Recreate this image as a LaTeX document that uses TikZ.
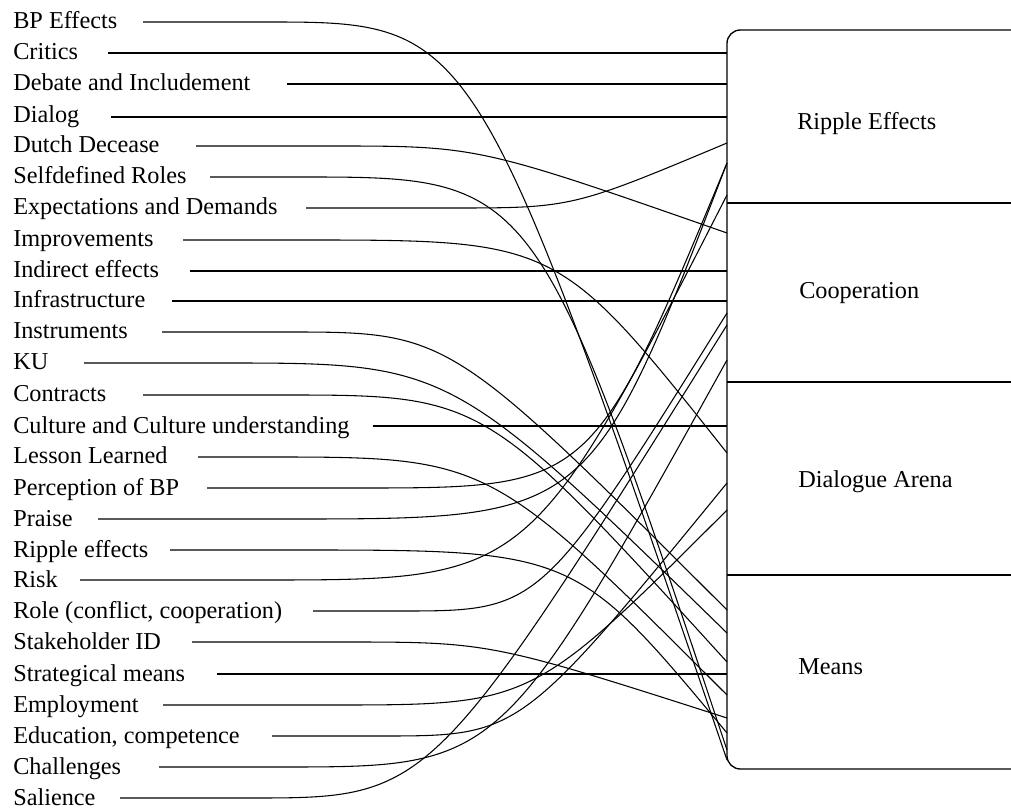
\documentclass[tikz,border=0pt]{standalone}
\usepackage{fontspec}
\setmainfont{Liberation Serif}
\begin{document}
\begin{tikzpicture}[x=0.75pt,y=-0.75pt,
  lbl/.style={anchor=base west,inner sep=0pt,font=\fontsize{18.2}{20}\selectfont},
  conn/.style={line width=0.8pt,black},
  boxline/.style={line width=1pt,black}]
\useasboundingbox (0,0) rectangle (1011,809);
\fill[white] (0,0) rectangle (1011,809);

% big box with sections
\draw[boxline,rounded corners=10] (1011,30) -- (727,30) -- (727,769) -- (1011,769);
\draw[boxline] (727,203) -- (1011,203);
\draw[boxline] (727,382) -- (1011,382);
\draw[boxline] (727,575) -- (1011,575);
\node[lbl] (cRE) at (797,130) {Ripple Effects};
\node[lbl] (cCO) at (799,299) {Cooperation};
\node[lbl] (cDA) at (798,487) {Dialogue Arena};
\node[lbl] (cME) at (798,674) {Means};

% end points on the box edge
\foreach \v in {53,84,117,143,163,195,233,271,301,313,325,360,426,453,483,510,610,633,662,674,695,718,733,750,760}
  \coordinate (b\v) at (727,\v);

% labels
\node[lbl] (l1)  at (13,29)  {BP Effects};
\node[lbl] (l2)  at (13,60)  {Critics};
\node[lbl] (l3)  at (13,91)  {Debate and Includement};
\node[lbl] (l4)  at (13,123) {Dialog};
\node[lbl] (l5)  at (13,153) {Dutch Decease};
\node[lbl] (l6)  at (13,184) {Selfdefined Roles};
\node[lbl] (l7)  at (13,215) {Expectations and Demands};
\node[lbl] (l8)  at (13,247) {Improvements};
\node[lbl] (l9)  at (13,278) {Indirect effects};
\node[lbl] (l10) at (13,308) {Infrastructure};
\node[lbl] (l11) at (13,339) {Instruments};
\node[lbl] (l12) at (13,370) {KU};
\node[lbl] (l13) at (13,402) {Contracts};
\node[lbl] (l14) at (13,433) {Culture and Culture understanding};
\node[lbl] (l15) at (13,464) {Lesson Learned};
\node[lbl] (l16) at (13,495) {Perception of BP};
\node[lbl] (l17) at (13,526) {Praise};
\node[lbl] (l18) at (13,557) {Ripple effects};
\node[lbl] (l19) at (13,587) {Risk};
\node[lbl] (l20) at (13,618) {Role (conflict, cooperation)};
\node[lbl] (l21) at (13,649) {Stakeholder ID};
\node[lbl] (l22) at (13,681) {Strategical means};
\node[lbl] (l23) at (13,712) {Employment};
\node[lbl] (l24) at (13,743) {Education, competence};
\node[lbl] (l25) at (13,774) {Challenges};
\node[lbl] (l26) at (13,805) {Salience};

% connector start points
\coordinate (s1)  at (143,22);
\coordinate (s2)  at (108,53);
\coordinate (s3)  at (287,84);
\coordinate (s4)  at (111,117);
\coordinate (s5)  at (196,146);
\coordinate (s6)  at (210,177);
\coordinate (s7)  at (306,208);
\coordinate (s8)  at (183,240);
\coordinate (s9)  at (190,271);
\coordinate (s10) at (172,301);
\coordinate (s11) at (162,332);
\coordinate (s12) at (84,363);
\coordinate (s13) at (143,395);
\coordinate (s14) at (373,426);
\coordinate (s15) at (198,457);
\coordinate (s16) at (207,488);
\coordinate (s17) at (98,519);
\coordinate (s18) at (170,550);
\coordinate (s19) at (80,580);
\coordinate (s20) at (313,611);
\coordinate (s21) at (192,642);
\coordinate (s22) at (217,674);
\coordinate (s23) at (163,705);
\coordinate (s24) at (272,736);
\coordinate (s25) at (159,767);
\coordinate (s26) at (120,798);

% straight connectors
\draw[conn] (s2) -- (b53);
\draw[conn] (s3) -- (b84);
\draw[conn] (s4) -- (b117);
\draw[conn] (s9) -- (b271);
\draw[conn] (s10) -- (b301);
\draw[conn] (s14) -- (b426);
\draw[conn] (s22) -- (b674);

% curved connectors going down
\draw[conn] (s1)  -- (265,22)  .. controls (475,22)  .. (b760);
\draw[conn] (s5)  -- (330,146) .. controls (478,146) .. (b233);
\draw[conn] (s6)  -- (300,177) .. controls (536,177) .. (b750);
\draw[conn] (s8)  -- (300,240) .. controls (558,240) .. (b453);
\draw[conn] (s11) -- (285,332) .. controls (449,332) .. (b610);
\draw[conn] (s12) -- (220,363) .. controls (450,363) .. (b633);
\draw[conn] (s13) -- (280,395) .. controls (484,395) .. (b662);
\draw[conn] (s15) -- (265,457) .. controls (489,457) .. (b695);
\draw[conn] (s18) -- (293,550) .. controls (575,550) .. (b733);
\draw[conn] (s21) -- (340,642) .. controls (490,642) .. (b718);

% curved connectors going up
\draw[conn] (s7)  -- (450,208) .. controls (572,208) .. (b143);
\draw[conn] (s16) -- (357,488) .. controls (592,488) .. (b163);
\draw[conn] (s17) -- (287,519) .. controls (590,519) .. (b163);
\draw[conn] (s19) -- (260,580) .. controls (530,580) .. (b195);
\draw[conn] (s20) -- (400,611) .. controls (541,611) .. (b313);
\draw[conn] (s23) -- (330,705) .. controls (532,705) .. (b510);
\draw[conn] (s24) -- (380,736) .. controls (520,736) .. (b483);
\draw[conn] (s25) -- (280,767) .. controls (501,767) .. (b360);
\draw[conn] (s26) -- (250,798) .. controls (431,798) .. (b325);
\end{tikzpicture}
\end{document}
